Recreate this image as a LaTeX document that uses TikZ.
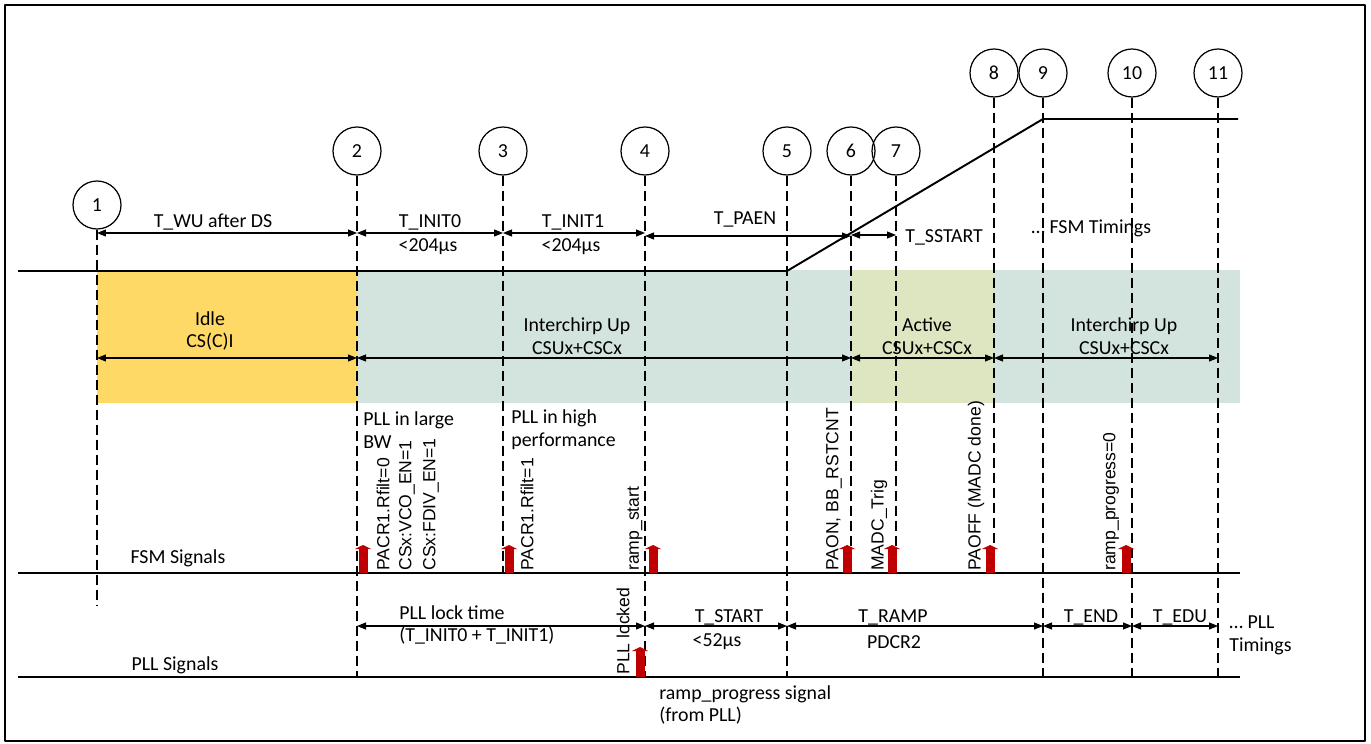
\documentclass[tikz,border=0pt]{standalone}
\usepackage{fontspec}
\setmainfont{Carlito}
\newfontfamily\lblfont{Liberation Sans}
\usetikzlibrary{arrows.meta,calc}

\definecolor{idlefill}{HTML}{FFD966}
\definecolor{chirpfill}{HTML}{D3E4DE}
\definecolor{activefill}{HTML}{DEE6C1}
\definecolor{trigred}{HTML}{C00000}

\tikzset{
  markc/.style={circle, draw, line width=0.7pt, minimum size=0.96cm, inner sep=0pt,
    font=\fontsize{11.3}{13}\selectfont},
  guide/.style={line width=0.6pt, dash pattern=on 0.2cm off 0.1cm},
  sig/.style={line width=1.1pt},
  dimarr/.style={line width=0.6pt,
    {Triangle[length=0.18cm,width=0.14cm]}-{Triangle[length=0.18cm,width=0.14cm]}},
  trig/.style={trigred, line width=0.18cm, -{Triangle[length=0.08cm,width=0.32cm]}},
  lbl/.style={font=\fontsize{11.3}{13}\selectfont, inner sep=0pt},
  vlbl/.style={rotate=90, anchor=west, inner sep=0pt, font=\lblfont\fontsize{10}{12}\selectfont},
}

\begin{document}
\begin{tikzpicture}[x=0.02cm, y=-0.02cm, line join=round]
    % page and frame
    \useasboundingbox (0,0) rectangle (1371,743);
    \draw[line width=1.2pt] (5,5) rectangle (1365,741);

    % marker positions: number / x / circle y / end of guide
    \foreach \n/\x/\y/\e in {1/97/205/605, 2/357/151/677, 3/503/151/573, 4/645/151/677,
        5/787/151/677, 6/851/151/573, 7/896/151/573, 8/994/73/573, 9/1043/73/677,
        10/1132/73/677, 11/1218/73/677} {
      \coordinate (m\n) at (\x,\y);
      \coordinate (e\n) at (\x,\e);
    }

    % state band
    \fill[chirpfill] (m2 |- 0,270) rectangle (1240,403);
    \fill[idlefill] (m1 |- 0,270) rectangle (m2 |- 0,403);
    \fill[activefill] (m6 |- 0,270) rectangle (m8 |- 0,403);

    % numbered markers with guides
    \foreach \n in {1,...,11} {
      \node[markc] (c\n) at (m\n) {\n};
      \draw[guide] (c\n) -- (e\n);
    }

    % frequency ramp
    \draw[sig] (18,271) -- (c5 |- 0,271) -- (c9 |- 0,119) -- (1238,119);

    % FSM timings
    \draw[dimarr] (c1 |- 0,233) -- (c2 |- 0,233);
    \draw[dimarr] (c2 |- 0,233) -- (c3 |- 0,233);
    \draw[dimarr] (c3 |- 0,233) -- (c4 |- 0,233);
    \draw[dimarr] (c4 |- 0,236) -- (c6 |- 0,236);
    \draw[dimarr] (c6 |- 0,235) -- (c7 |- 0,235);
    \node[lbl] (twu) at (213,222) {T\_WU after DS};
    \node[lbl] (ti0) at (430,222) {T\_INIT0};
    \node[lbl] (ti0v) at (428,247) {<204µs};
    \node[lbl] (ti1) at (573,222) {T\_INIT1};
    \node[lbl] (ti1v) at (571,247) {<204µs};
    \node[lbl] (tpaen) at (745,219) {T\_PAEN};
    \node[lbl, anchor=west] (tss) at (905,237) {T\_SSTART};
    \node[lbl, anchor=west] (fsmt) at (1031,228) {… FSM Timings};

    % states
    \draw[dimarr] (c1 |- 0,358) -- (c2 |- 0,358);
    \draw[dimarr] (c2 |- 0,358) -- (c6 |- 0,358);
    \draw[dimarr] (c6 |- 0,358) -- (c8 |- 0,358);
    \draw[dimarr] (c8 |- 0,358) -- (c11 |- 0,358);
    \node[lbl, align=center] (idle) at (210,331) {Idle\\CS(C)I};
    \node[lbl, align=center] (icu) at (577,336) {Interchirp Up\\CSUx+CSCx};
    \node[lbl, align=center] (act) at (927,336) {Active\\CSUx+CSCx};
    \node[lbl, align=center] (icu2) at (1124,336) {Interchirp Up\\CSUx+CSCx};

    \node[lbl, anchor=west, align=left] (bw) at (363,430) {PLL in large\\BW};
    \node[lbl, anchor=west, align=left] (hp) at (511,430) {PLL in high\\performance};

    % FSM signals
    \draw[sig] (18,573) -- (1240,573);
    \node[lbl] (fsm) at (178,558) {FSM Signals};
    \node[vlbl] (s1) at (383,571) {PACR1.Rfilt=0};
    \node[vlbl] (s2) at (407,571) {CSx:VCO\_EN=1};
    \node[vlbl] (s3) at (431,571) {CSx:FDIV\_EN=1};
    \node[vlbl] (s4) at (527,571) {PACR1.Rfilt=1};
    \node[vlbl] (s5) at (635,571) {ramp\_start};
    \node[vlbl] (s6) at (834,571) {PAON, BB\_RSTCNT};
    \node[vlbl] (s7) at (879,571) {MADC\_Trig};
    \node[vlbl] (s8) at (976,571) {PAOFF (MADC done)};
    \node[vlbl] (s9) at (1111,571) {ramp\_progress=0};
    \foreach \x in {363,509,653,847,892,990,1126}
      \draw[trig] (\x,573) -- (\x,545);

    % PLL signals
    \draw[sig] (18,677) -- (1240,677);
    \node[lbl] (pll) at (175,665) {PLL Signals};
    \node[vlbl] (lock) at (623,675) {PLL locked};
    \draw[trig] (640,677) -- (640,647);

    % PLL timings
    \draw[dimarr] (c2 |- 0,626) -- (c4 |- 0,626);
    \draw[dimarr] (c4 |- 0,626) -- (c5 |- 0,626);
    \draw[dimarr] (c5 |- 0,626) -- (c9 |- 0,626);
    \draw[dimarr] (c9 |- 0,626) -- (c10 |- 0,626);
    \draw[dimarr] (c10 |- 0,626) -- (c11 |- 0,626);
    \node[lbl, anchor=west, align=left] (tlock) at (399,625) {PLL lock time\\(T\_INIT0 + T\_INIT1)};
    \node[lbl] (tst) at (729,617) {T\_START};
    \node[lbl] (tstv) at (717,642) {<52µs};
    \node[lbl] (trmp) at (893,617) {T\_RAMP};
    \node[lbl] (trmpv) at (894,642) {PDCR2};
    \node[lbl] (tend) at (1091,617) {T\_END};
    \node[lbl] (tedu) at (1180,617) {T\_EDU};
    \node[lbl, anchor=west, align=left] (pllt) at (1229,635) {… PLL\\Timings};
    \node[lbl, anchor=west, align=left] (rps) at (659,705) {ramp\_progress signal\\(from PLL)};
  \end{tikzpicture}
\end{document}
